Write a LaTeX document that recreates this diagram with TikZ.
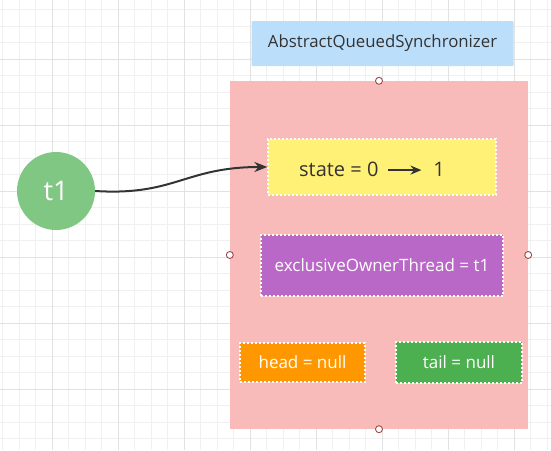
\documentclass[tikz,border=0pt]{standalone}
\usepackage{fontspec}
\setmainfont{Open Sans}
\usetikzlibrary{arrows.meta}
\definecolor{gridminor}{HTML}{F0F0F0}
\definecolor{gridmajor}{HTML}{E2E2E2}
\definecolor{aqsblue}{HTML}{BBDEFB}
\definecolor{pinkbg}{HTML}{F8BBBA}
\definecolor{tgreen}{HTML}{81C784}
\definecolor{stateyel}{HTML}{FFF176}
\definecolor{ownerpur}{HTML}{BA68C8}
\definecolor{headorg}{HTML}{FF9800}
\definecolor{tailgrn}{HTML}{4CAF50}
\definecolor{darktxt}{HTML}{333333}
\definecolor{ptred}{HTML}{A04848}
\tikzset{
  fieldbox/.style={draw=white, line width=1.3pt, dash pattern=on 2pt off 2pt, inner sep=0pt, text=white, font=\fontsize{17}{20}\selectfont},
  cpoint/.style={circle, draw=ptred, fill=white, line width=0.9pt, minimum size=7pt, inner sep=0pt},
}
\begin{document}
\begin{tikzpicture}[x=1pt,y=-1pt]
\useasboundingbox (0,0) rectangle (551,450);
% grid
\foreach \i in {0,...,33} {
  \draw[gridminor, line width=1pt] ({2.8+16.5*\i},0) -- ({2.8+16.5*\i},450);
}
\foreach \j in {0,...,27} {
  \draw[gridminor, line width=1pt] (0,{9.8+16.5*\j}) -- (551,{9.8+16.5*\j});
}
\foreach \i in {0,...,8} {
  \draw[gridmajor, line width=1pt] ({52.3+66*\i},0) -- ({52.3+66*\i},450);
}
\foreach \j in {0,...,6} {
  \draw[gridmajor, line width=1pt] (0,{-6.7+66*\j}) -- (551,{-6.7+66*\j});
}
% AQS label box
\node[fill=aqsblue, rounded corners=1pt, minimum width=262pt, minimum height=45pt, inner sep=0pt, text=darktxt, font=\fontsize{16.8}{20}\selectfont] (aqs) at (382.5,43.5) {AbstractQueuedSynchronizer};
% big container
\node[fill=pinkbg, minimum width=298pt, minimum height=348pt, inner sep=0pt] (cont) at (379,255) {};
% fields
\node[fieldbox, fill=stateyel, text=darktxt, minimum width=228pt, minimum height=56pt] (state) at (382,167) {};
\node[text=darktxt, font=\fontsize{20}{24}\selectfont, inner sep=0pt, anchor=base west] (statetxt) at (299,176.5) {state = 0\hspace{9pt}\tikz[baseline=-0.6ex]\draw[darktxt, line width=2pt, -{Stealth[length=11pt,width=9pt]}] (0,0) -- (33pt,0);\hspace{11pt}1};
\node[fieldbox, fill=ownerpur, minimum width=242pt, minimum height=61pt] (owner) at (382,265.5) {exclusiveOwnerThread = t1};
\node[fieldbox, fill=headorg, minimum width=125pt, minimum height=39pt] (head) at (302.5,362.5) {head = null};
\node[fieldbox, fill=tailgrn, minimum width=126pt, minimum height=41pt] (tail) at (459,362.5) {tail = null};
% connection points
\node[cpoint] (cpt) at (cont.north) {};
\node[cpoint] (cpb) at (cont.south) {};
\node[cpoint] (cpl) at (cont.west) {};
\node[cpoint] (cpr) at (cont.east) {};
% thread circle
\node[circle, fill=tgreen, minimum size=78pt, inner sep=0pt, text=white, font=\fontsize{27}{32}\selectfont] (t1) at (56,191) {t1};
% arrow
\draw[darktxt, line width=2pt, -{Stealth[length=13pt,width=10pt]}] (t1.east) .. controls (175,196) and (185,167) .. (state.west);
\end{tikzpicture}
\end{document}
